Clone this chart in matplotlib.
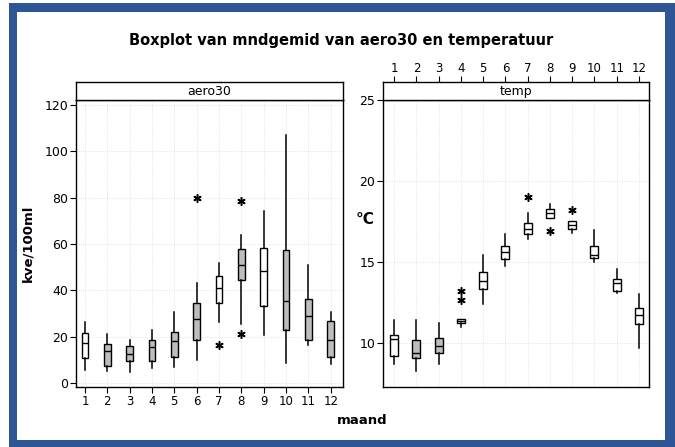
import matplotlib
matplotlib.use('Agg')
import matplotlib.pyplot as plt
from matplotlib.patches import Rectangle

plt.rcParams['font.family'] = ['DejaVu Sans']

months = list(range(1, 13))
month_labels = [str(m) for m in months]

# aero30 (kve/100ml)
aero_lo = [5.8, 5.2, 4.7, 6.6, 6.9, 9.8, 26.3, 25.3, 20.6, 8.6, 16.3, 8.1]
aero_q1 = [10.8, 7.3, 9.5, 9.4, 11.2, 18.7, 34.7, 44.6, 33.2, 23.0, 18.7, 11.2]
aero_med = [17.4, 13.8, 12.7, 15.5, 18.1, 27.8, 41.0, 50.8, 48.3, 35.4, 28.8, 18.7]
aero_q3 = [21.7, 16.7, 15.8, 18.4, 22.0, 34.5, 46.2, 58.0, 58.4, 57.6, 36.4, 26.8]
aero_hi = [26.3, 21.3, 18.8, 23.0, 30.6, 43.2, 51.8, 64.0, 74.1, 107.3, 50.8, 30.6]
aero_out = [[], [], [], [], [], [79.9], [16.5], [78.8, 21.0], [], [], [], []]
aero_filled = [False, True, True, True, True, True, False, True, False, True, True, True]
aero_ticks = [0, 20, 40, 60, 80, 100, 120]

# temp (°C)
temp_lo = [8.66, 8.24, 8.66, 10.95, 12.42, 14.77, 16.43, 17.73, 16.8, 15.0, 13.1, 9.69]
temp_q1 = [9.2, 9.07, 9.38, 11.2, 13.35, 15.19, 16.7, 17.73, 17.05, 15.25, 13.2, 11.14]
temp_med = [10.25, 9.38, 9.8, 11.35, 13.82, 15.6, 17.0, 18.04, 17.25, 15.4, 13.72, 11.7]
temp_q3 = [10.48, 10.2, 10.3, 11.5, 14.38, 15.97, 17.38, 18.29, 17.52, 15.97, 13.97, 12.17]
temp_hi = [11.4, 11.38, 11.2, 11.5, 15.41, 16.7, 18.0, 18.55, 17.52, 16.96, 14.55, 13.04]
temp_out = [[], [], [], [12.62, 13.2], [], [], [19.0], [16.9], [18.18], [], [], []]
temp_filled = [False, True, True, False, False, False, False, False, False, False, False, False]
temp_ticks = [10, 15, 20, 25]

W, H = 675, 447
fig = plt.figure(figsize=(W / 100, H / 100), dpi=100)

def fx(px):
    return px / W

def fy(py):
    return 1 - py / H

# blue frame
blue = '#2f5694'
for (x0, y0, x1, y1) in [(9, 3, 675, 12), (9, 3, 17, 447), (665, 3, 675, 447), (9, 440, 675, 447)]:
    fig.patches.append(Rectangle((fx(x0), fy(y1)), fx(x1) - fx(x0), fy(y0) - fy(y1),
                                 transform=fig.transFigure, facecolor=blue, edgecolor='none', zorder=0))

def stats(lo, q1, med, q3, hi, out):
    return [dict(whislo=a, q1=b, med=c, q3=d, whishi=e, fliers=f, label='')
            for a, b, c, d, e, f in zip(lo, q1, med, q3, hi, out)]

def draw_panel(left, right, ylim, xlim, st, filled, width, yticks, strip_text, top_ticks):
    ax = fig.add_axes([fx(left), fy(387), fx(right) - fx(left), fy(100) - fy(387)])
    bp = ax.bxp(st, positions=months, widths=width, patch_artist=True, showcaps=False,
                boxprops=dict(edgecolor='black', linewidth=1.0),
                medianprops=dict(color='black', linewidth=1.0),
                whiskerprops=dict(color='black', linewidth=1.1),
                flierprops=dict(marker=(6, 2, 0), markersize=6, markeredgecolor='black',
                                markerfacecolor='black', markeredgewidth=1.1, linestyle='none'))
    for patch, f in zip(bp['boxes'], filled):
        patch.set_facecolor('#bdbdbd' if f else 'white')
    ax.set_xlim(*xlim)
    ax.set_ylim(*ylim)
    ax.set_yticks(yticks)
    ax.tick_params(axis='y', labelsize=9, length=4, width=0.8, pad=1.5)
    ax.grid(True, linestyle=':', color='#dcdcdc', linewidth=0.6)
    ax.set_axisbelow(True)
    for s in ax.spines.values():
        s.set_linewidth(1.0)
    strip = fig.add_axes([fx(left), fy(100), fx(right) - fx(left), fy(82) - fy(100)])
    strip.set_xlim(*xlim)
    strip.set_yticks([])
    strip.text(0.5, 0.45, strip_text, transform=strip.transAxes, ha='center', va='center', fontsize=9)
    for s in strip.spines.values():
        s.set_linewidth(1.0)
    if top_ticks:
        ax.set_xticks(months)
        ax.tick_params(axis='x', bottom=False, labelbottom=False)
        strip.set_xticks(months)
        strip.set_xticklabels(month_labels)
        strip.tick_params(axis='x', top=True, labeltop=True, bottom=False, labelbottom=False,
                          labelsize=8.5, length=4, width=0.8, pad=1)
    else:
        ax.set_xticks(months)
        ax.set_xticklabels(month_labels)
        ax.tick_params(axis='x', labelsize=8.5, length=4, width=0.8, pad=2)
        strip.set_xticks([])
    return ax

draw_panel(76, 343, (-1.7, 122.2), (0.6, 12.55),
           stats(aero_lo, aero_q1, aero_med, aero_q3, aero_hi, aero_out),
           aero_filled, 0.3, aero_ticks, 'aero30', False)
draw_panel(383, 649, (7.27, 25.0), (0.5, 12.45),
           stats(temp_lo, temp_q1, temp_med, temp_q3, temp_hi, temp_out),
           temp_filled, 0.36, temp_ticks, 'temp', True)

fig.text(fx(341), fy(41), 'Boxplot van mndgemid van aero30 en temperatuur',
         ha='center', va='center', fontsize=10.5, fontweight='bold')
fig.text(fx(28), fy(243), 'kve/100ml', ha='center', va='center', rotation=90,
         fontsize=9.5, fontweight='bold')
fig.text(fx(365), fy(220), '°C', ha='center', va='center', fontsize=11, fontweight='bold')
fig.text(fx(362), fy(421), 'maand', ha='center', va='center', fontsize=9.5, fontweight='bold')

fig.savefig('out.png', dpi=100)
